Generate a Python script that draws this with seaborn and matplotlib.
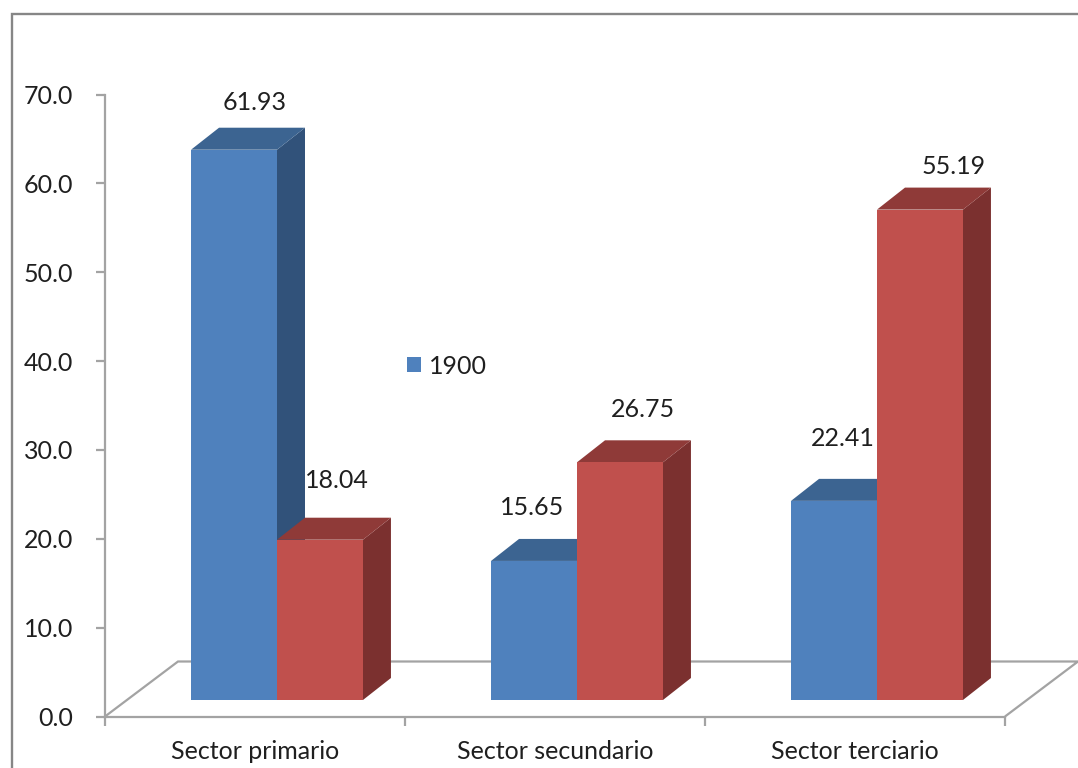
import matplotlib
matplotlib.use("Agg")
import matplotlib.pyplot as plt
from matplotlib.lines import Line2D
from matplotlib.patches import Polygon
import pandas as pd
import seaborn as sns

sectors = ["Sector primario", "Sector secundario", "Sector terciario"]
series_names = ["1900", "2010"]
values_1900 = [61.93, 15.65, 22.41]
values_2010 = [18.04, 26.75, 55.19]
y_ticks = [0, 10, 20, 30, 40, 50, 60, 70]

W, H = 1078, 768
FONT = 18
TEXT = "#1f1f1f"
AXIS_GREY = "#a3a3a3"
FRAME_GREY = "#868686"
FACE = {"1900": "#4F81BD", "2010": "#C0504D"}
TOP = {"1900": "#3C6491", "2010": "#8F3A38"}
SIDE = {"1900": "#31527A", "2010": "#7B302F"}

sns.set_style("white")
plt.rcParams["font.family"] = ["Lato", "DejaVu Sans"]

frame = pd.DataFrame({
    "sector": sectors * 2,
    "serie": [series_names[0]] * 3 + [series_names[1]] * 3,
    "valor": values_1900 + values_2010,
})

fig = plt.figure(figsize=(W / 100, H / 100), dpi=100, facecolor="white")
ax = fig.add_axes([105 / W, (H - 716.5) / H, 900 / W, 622 / H])

# Scale factors: one category spans 300 px, one y unit about 8.886 px.
PX_X = 1 / 300
PX_Y = 70 / 622
shift = 22 * PX_X            # the columns sit towards the back of the floor
lift = 16.5 * PX_Y           # height of the column base above the front edge
depth_x, depth_y = 28 * PX_X, 22 * PX_Y
floor_x, floor_y = 73 * PX_X, 55 * PX_Y

sns.barplot(
    data=frame, x="sector", y="valor", hue="serie", order=sectors,
    hue_order=series_names, palette=FACE, saturation=1, width=0.573,
    gap=0, bottom=lift, linewidth=0, legend=False, errorbar=None, ax=ax,
)

left_lim = -0.5 - shift
ax.set_xlim(left_lim, left_lim + 3)
ax.set_ylim(0, 70)
ax.set_xlabel("")
ax.set_ylabel("")

# Floor of the 3D plot, behind the columns
x0, x1 = ax.get_xlim()
ax.add_patch(Polygon(
    [(x0, 0), (x0 + floor_x, floor_y), (x1 + floor_x, floor_y), (x1, 0)],
    closed=False, fill=False, edgecolor=AXIS_GREY, linewidth=1.6,
    zorder=0.5, clip_on=False,
))

# Top and side faces extruded from each column; every later series and every
# front face is painted over the extrusions of the series before it
for rank, (container, name) in enumerate(zip(ax.containers, series_names)):
    for bar in container:
        xl, xr = bar.get_x(), bar.get_x() + bar.get_width()
        yb, yt = bar.get_y(), bar.get_y() + bar.get_height()
        z = 2 + rank
        ax.add_patch(Polygon(
            [(xr, yb), (xr + depth_x, yb + depth_y), (xr + depth_x, yt + depth_y), (xr, yt)],
            facecolor=SIDE[name], edgecolor="none", zorder=z, clip_on=False,
        ))
        ax.add_patch(Polygon(
            [(xl, yt), (xl + depth_x, yt + depth_y), (xr + depth_x, yt + depth_y), (xr, yt)],
            facecolor=TOP[name], edgecolor="none", zorder=z, clip_on=False,
        ))
        bar.set_zorder(z + 0.5)

# Value labels, nudged individually (points) from the top of each column
label_nudges = {
    "1900": [(15, 34.3), (-1.5, 38.6), (6.4, 45)],
    "2010": [(12, 42.6), (16.7, 38), (24.4, 31)],
}
for container, name, vals in zip(ax.containers, series_names, [values_1900, values_2010]):
    for bar, val, nudge in zip(container, vals, label_nudges[name]):
        ax.annotate(
            f"{val:.2f}",
            (bar.get_x() + bar.get_width() / 2, bar.get_y() + bar.get_height()),
            xytext=nudge, textcoords="offset points", ha="center", va="center",
            fontsize=FONT, color=TEXT, zorder=10, annotation_clip=False,
        )

# Axes: category boundaries carry the ticks, names sit between them
ax.set_xticks([x0, x0 + 1, x0 + 2, x0 + 3], labels=[])
ax.set_xticks([x0 + 0.5, x0 + 1.5, x0 + 2.5], labels=sectors, minor=True)
ax.tick_params(axis="x", which="major", length=6.5, width=1.6, color=AXIS_GREY, bottom=True)
ax.tick_params(axis="x", which="minor", length=0, pad=17, labelsize=FONT, labelcolor=TEXT)
ax.set_yticks(y_ticks, labels=[f"{v:.1f}" for v in y_ticks])
ax.tick_params(axis="y", length=6.5, width=1.6, color=AXIS_GREY, left=True,
               pad=16.5, labelsize=FONT, labelcolor=TEXT)
for side in ("top", "right"):
    ax.spines[side].set_visible(False)
for side in ("left", "bottom"):
    ax.spines[side].set_color(AXIS_GREY)
    ax.spines[side].set_linewidth(1.6)
ax.patch.set_alpha(0)

# Only the first series appears in the legend
ax.legend(
    handles=[ax.containers[0][0]], labels=[series_names[0]], loc="center left",
    bbox_to_anchor=(407 / W, (H - 366) / H), bbox_transform=fig.transFigure,
    frameon=False, fontsize=FONT, labelcolor=TEXT, handlelength=0.56,
    handleheight=0.56, handletextpad=0.32, borderpad=0, borderaxespad=0,
)

# Chart-area outline along the left and top
fig.add_artist(Line2D(
    [12 / W, 12 / W, 1], [0, (H - 14) / H, (H - 14) / H],
    color=FRAME_GREY, linewidth=1.7, solid_joinstyle="miter",
))

fig.savefig("out.png", dpi=100, facecolor="white")
